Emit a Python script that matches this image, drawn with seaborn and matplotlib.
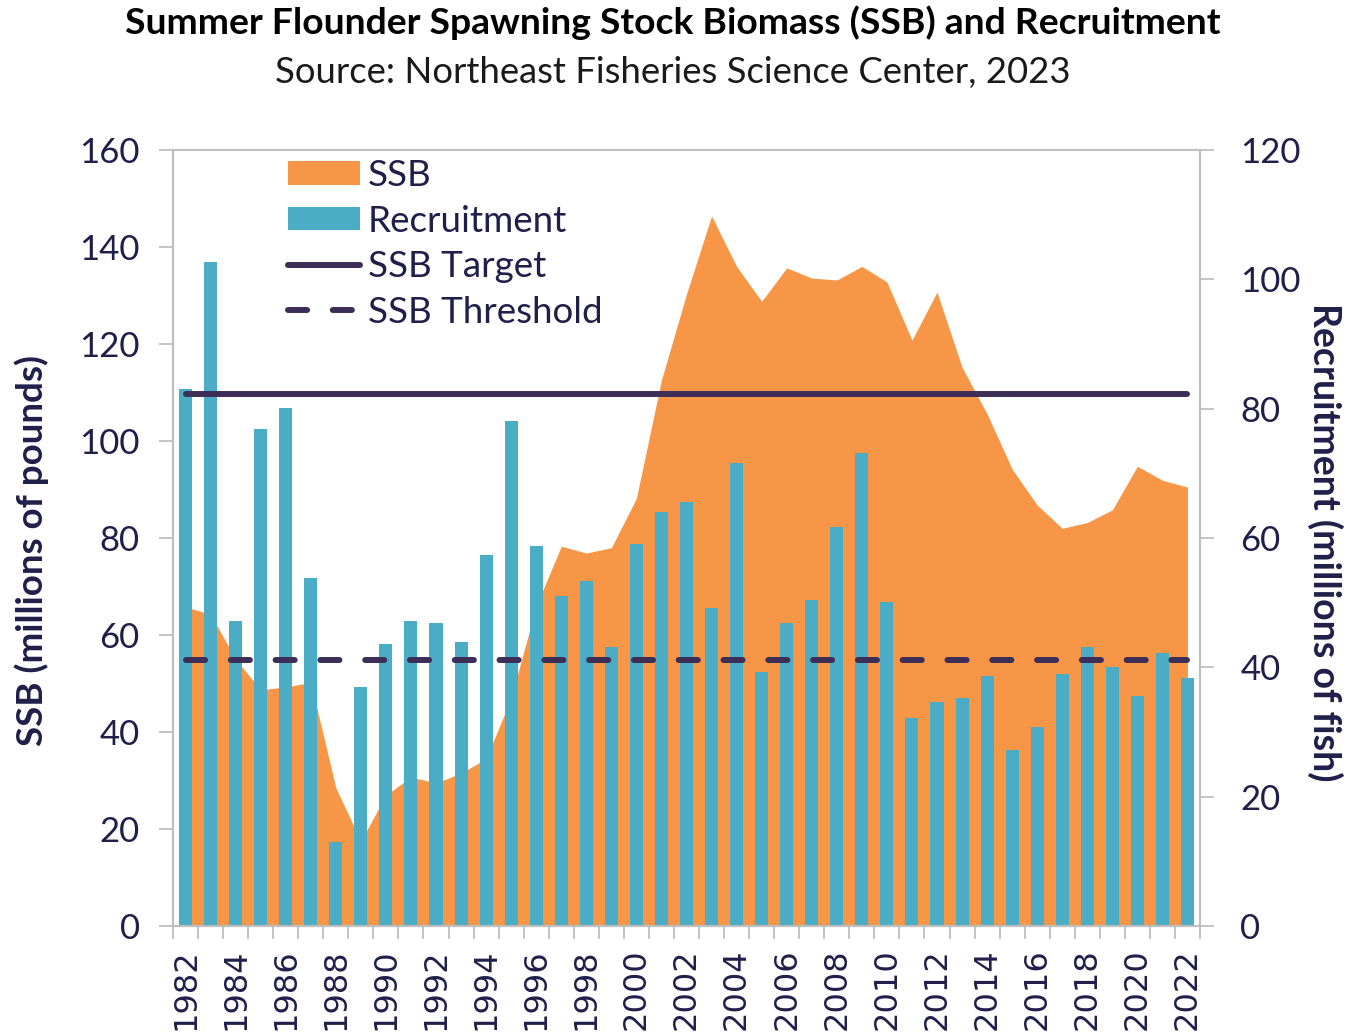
import matplotlib
matplotlib.use('Agg')
import matplotlib.pyplot as plt
import seaborn as sns
import numpy as np
from matplotlib.patches import Patch
from matplotlib.lines import Line2D

# data
years = [1982, 1983, 1984, 1985, 1986, 1987, 1988, 1989, 1990, 1991,
         1992, 1993, 1994, 1995, 1996, 1997, 1998, 1999, 2000, 2001,
         2002, 2003, 2004, 2005, 2006, 2007, 2008, 2009, 2010, 2011,
         2012, 2013, 2014, 2015, 2016, 2017, 2018, 2019, 2020, 2021, 2022]

# SSB, millions of pounds (left axis)
ssb = [65.8, 64.3, 55.0, 48.7, 49.3, 50.2, 28.5, 17.5, 27.0, 30.7,
       29.5, 31.5, 34.5, 47.0, 66.0, 78.3, 76.9, 78.0, 88.2, 112.6,
       130.3, 146.4, 136.0, 128.8, 135.7, 133.6, 133.2, 136.0, 132.8, 120.8,
       130.7, 115.2, 105.6, 94.2, 86.8, 82.0, 83.2, 85.8, 94.8, 91.9, 90.5]

# recruitment, millions of fish (right axis)
recruitment = [83.0, 102.7, 47.2, 76.8, 80.1, 53.8, 13.0, 37.0, 43.6, 47.2,
               46.8, 43.9, 57.4, 78.1, 58.7, 51.0, 53.4, 43.2, 59.1, 64.0,
               65.6, 49.2, 71.6, 39.3, 46.8, 50.4, 61.7, 73.1, 50.1, 32.1,
               34.6, 35.3, 38.7, 27.2, 30.8, 39.0, 43.2, 40.0, 35.6, 42.2, 38.3]

ssb_target = 109.6
ssb_threshold = 54.8

orange = '#F79646'
teal = '#4BACC6'
line_col = '#3D2E58'
navy = '#1F1F4A'
spine_gray = '#BFBFBF'

sns.set_theme(style='ticks')
plt.rcParams['font.family'] = ['Lato', 'DejaVu Sans']

fig = plt.figure(figsize=(13.55, 10.32), dpi=100)
ax = fig.add_axes([173 / 1355, 1 - 926 / 1032, 1027 / 1355, 776 / 1032])
ax2 = ax.twinx()
ax3 = ax.twinx()

x = np.arange(len(years))

# SSB area (bottom layer)
ax.fill_between(x, ssb, color=orange, lw=0)

# recruitment bars
sns.barplot(x=[str(y) for y in years], y=recruitment, ax=ax2, color=teal,
            saturation=1, width=0.52, linewidth=0)

# reference lines (top layer)
ax3.plot([x[0], x[-1]], [ssb_target, ssb_target], color=line_col, lw=4.3,
         solid_capstyle='round')
ax3.plot([x[0], x[-1]], [ssb_threshold, ssb_threshold], color=line_col, lw=4.3,
         dashes=(3.2, 4.3), dash_capstyle='round')
ax3.set_ylim(0, 160)
ax3.axis('off')

ax.set_xlim(-0.5, len(years) - 0.5)
ax.set_ylim(0, 160)
ax2.set_ylim(0, 120)
ax2.set_xlabel('')
ax2.set_ylabel('')

# x axis: labels every two years, tick marks between categories
ax.set_xticks(x[::2])
ax.set_xticklabels([str(y) for y in years[::2]], rotation=90,
                   fontsize=23, fontfamily='DejaVu Sans', color=navy)
ax.set_xticks(np.arange(-0.5, len(years), 1), minor=True)
ax.tick_params(axis='x', which='major', length=0, pad=16)
ax.tick_params(axis='x', which='minor', length=9, width=1.3,
               color=spine_gray, bottom=True)

ax.set_yticks(range(0, 161, 20))
ax.tick_params(axis='y', length=10, width=1.3, color=spine_gray,
               labelsize=25, labelcolor=navy, pad=14)
ax2.set_yticks(range(0, 121, 20))
ax2.tick_params(axis='y', length=10, width=1.3, color=spine_gray,
                labelsize=25, labelcolor=navy, pad=19)

for a in (ax, ax2):
    for s in a.spines.values():
        s.set_color(spine_gray)
        s.set_linewidth(1.5)
        s.set_visible(True)

# axis titles
fig.text(32 / 1355, 1 - 550 / 1032, 'SSB (millions of pounds)', rotation=90,
         ha='center', va='center', fontsize=26.5, fontweight='bold', color=navy)
fig.text(1325 / 1355, 1 - 542 / 1032, 'Recruitment (millions of fish)',
         rotation=270, ha='center', va='center', fontsize=27,
         fontweight='bold', color=navy)

# titles
fig.text(672.5 / 1355, 1 - 23 / 1032,
         'Summer Flounder Spawning Stock Biomass (SSB) and Recruitment',
         ha='center', va='center', fontsize=26.8, fontweight='bold', color='black')
fig.text(672.5 / 1355, 1 - 72 / 1032,
         'Source: Northeast Fisheries Science Center, 2023',
         ha='center', va='center', fontsize=26.3, color='#1a1a1a')

handles = [
    Patch(facecolor=orange, edgecolor='none', label='SSB'),
    Patch(facecolor=teal, edgecolor='none', label='Recruitment'),
    Line2D([], [], color=line_col, lw=4.3, label='SSB Target'),
    Line2D([], [], color=line_col, lw=4.3, dashes=(3.2, 4.3),
           dash_capstyle='round', label='SSB Threshold'),
]
leg = fig.legend(handles=handles, loc='upper left',
                 bbox_to_anchor=(288 / 1355, 1 - 159 / 1032),
                 frameon=False, fontsize=26.5, borderpad=0, borderaxespad=0,
                 handlelength=1.95, handleheight=0.6, handletextpad=0.22,
                 labelspacing=0.34)
for t in leg.get_texts():
    t.set_color(navy)

fig.savefig('out.png', dpi=100, facecolor='white')
